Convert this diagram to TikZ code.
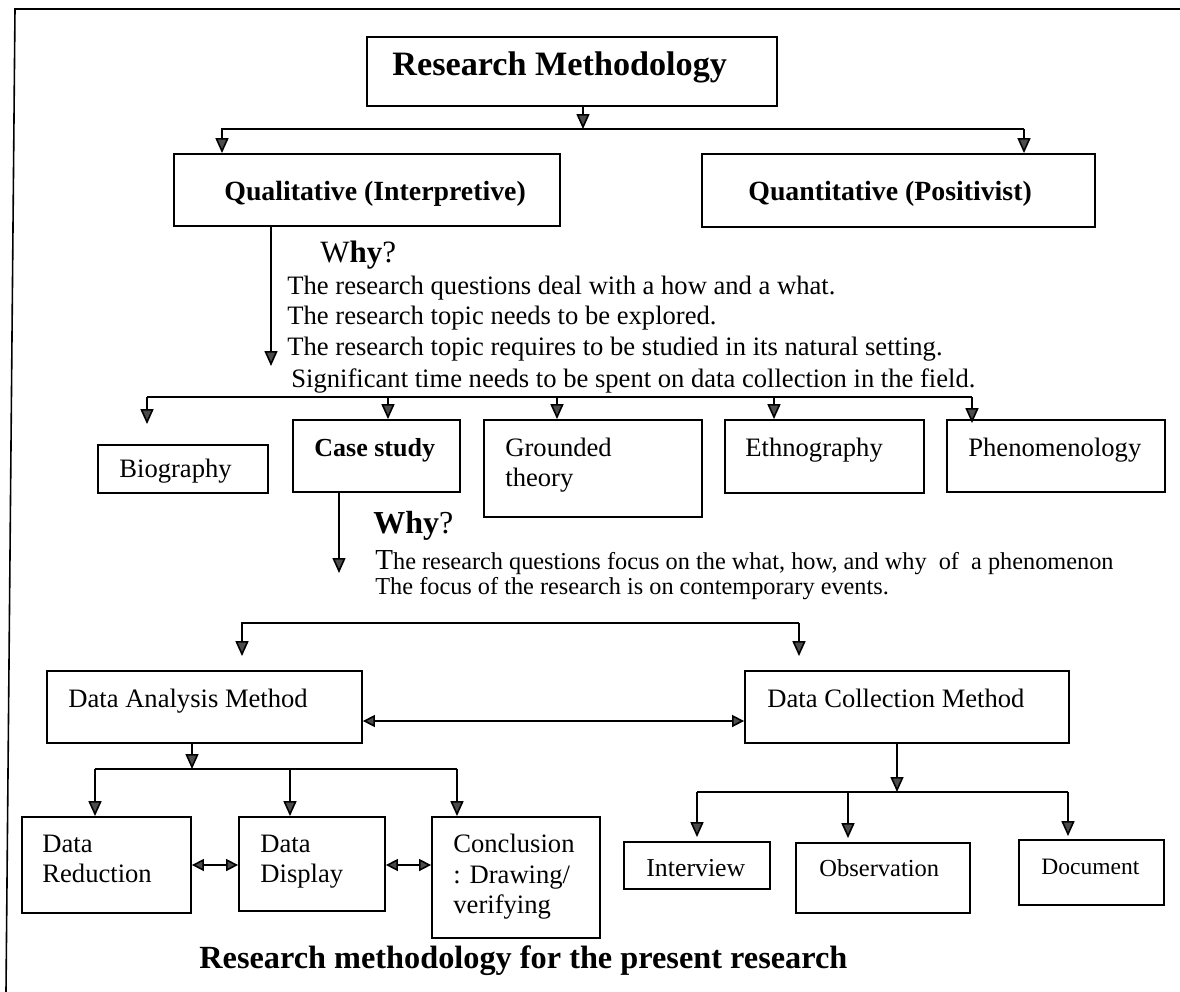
\documentclass[tikz,border=0pt]{standalone}
\usepackage{fontspec}
\setmainfont{Liberation Serif}
\usetikzlibrary{arrows.meta,fit,calc}

\begin{document}
\begin{tikzpicture}[x=0.5pt,y=-0.5pt,
  box/.style={draw,line width=0.9pt,inner sep=0pt},
  txt/.style={inner sep=0pt,anchor=base west},
  body/.style={txt,font=\fontsize{13.3}{15}\selectfont},
  small/.style={txt,font=\fontsize{12.15}{14}\selectfont},
  boldlbl/.style={txt,font=\fontsize{13.9}{16}\selectfont\bfseries},
  link/.style={line width=0.8pt},
  arr/.style={line width=0.8pt,-{Triangle[length=7.5pt,width=6.5pt,fill=black!70]}},
  darr/.style={line width=0.8pt,{Triangle[length=6pt,width=6pt,fill=black!70]}-{Triangle[length=6pt,width=6pt,fill=black!70]}}
]
\useasboundingbox (0,0) rectangle (1180,992);

% outer frame (top and left edges)
\draw[line width=0.8pt] (1180,9) -- (15,9) -- (6,992);

% ---------------- boxes ----------------
\node[box,fit={(367,37) (777,106)}] (rm) {};
\node[box,fit={(174,154) (560,226)}] (ql) {};
\node[box,fit={(702,154) (1095,227)}] (qt) {};

\node[box,fit={(98,445) (268,493)}] (bio) {};
\node[box,fit={(293,420) (460,492)}] (cs) {};
\node[box,fit={(484,420) (702,517)}] (gt) {};
\node[box,fit={(725,420) (924,493)}] (eth) {};
\node[box,fit={(947,420) (1165,492)}] (phe) {};

\node[box,fit={(47,671) (362,743)}] (dam) {};
\node[box,fit={(745,671) (1069,743)}] (dcm) {};

\node[box,fit={(22,817) (191,913)}] (dr) {};
\node[box,fit={(239,817) (385,911)}] (dd) {};
\node[box,fit={(432,817) (600,938)}] (con) {};

\node[box,fit={(624,842) (770,889)}] (int) {};
\node[box,fit={(796,843) (970,913)}] (obs) {};
\node[box,fit={(1019,840) (1164,905)}] (doc) {};

% ---------------- labels ----------------
\node[txt,font=\fontsize{17.1}{20}\selectfont\bfseries] (rmT) at (392,75) {Research Methodology};
\node[boldlbl] (qlT) at (224,200) {Qualitative (Interpretive)};
\node[boldlbl] (qtT) at (748,200) {Quantitative (Positivist)};

\node[txt,font=\fontsize{15.5}{18}\selectfont] (why1) at (320,262) {W\textbf{hy}?};
\node[body] (why1a) at (287,294) {The research questions deal with a how and a what.};
\node[body] (why1b) at (287,324) {The research topic needs to be explored.};
\node[body] (why1c) at (287,355) {The research topic requires to be studied in its natural setting.};
\node[body] (why1d) at (291,387) {Significant time needs to be spent on data collection in the field.};

\node[body] (bioT) at (119,477) {Biography};
\node[txt,font=\fontsize{13}{15}\selectfont\bfseries] (csT) at (314,456) {Case study};
\node[body] (gtT1) at (505,456) {Grounded};
\node[body] (gtT2) at (505,486) {theory};
\node[body] (ethT) at (745,456) {Ethnography};
\node[body] (pheT) at (968,456) {Phenomenology};

\node[txt,font=\fontsize{16}{18}\selectfont] (why2) at (373,533) {\textbf{Why}?};
\node[small] (why2a) at (375,569) {{\fontsize{14.5}{14.5}\selectfont T}he research questions focus on the what, how, and why\ \ of\ \ a phenomenon};
\node[small] (why2b) at (375,594) {The focus of the research is on contemporary events.};

\node[body] (damT) at (68,707) {Data Analysis Method};
\node[body] (dcmT) at (767,707) {Data Collection Method};

\node[body] (drT1) at (42,852) {Data};
\node[body] (drT2) at (42,882) {Reduction};
\node[body] (ddT1) at (260,852) {Data};
\node[body] (ddT2) at (260,882) {Display};
\node[body] (conT1) at (453,852) {Conclusion};
\node[body] (conT2) at (453,883) {: Drawing/};
\node[body] (conT3) at (453,913) {verifying};

\node[txt,font=\fontsize{12.9}{15}\selectfont] (intT) at (646,876) {Interview};
\node[txt,font=\fontsize{12.25}{14}\selectfont] (obsT) at (819,876) {Observation};
\node[txt,font=\fontsize{11.75}{14}\selectfont] (docT) at (1041,874) {Document};

\node[txt,font=\fontsize{16.15}{19}\selectfont\bfseries] (title) at (199,968) {Research methodology for the present research};

% ---------------- connectors ----------------
% Research Methodology -> two paradigms
\coordinate (b1) at (583,129);
\coordinate (b1l) at (222,129);
\coordinate (b1r) at (1024,129);
\draw[arr] (rm.south -| b1) -- (b1);
\draw[arr] (b1r) -- (b1l) -- (b1l |- ql.north);
\draw[arr] (b1r) -- (b1r |- qt.north);

% Qualitative -> reasons
\coordinate (w1) at (271,366);
\draw[arr] (ql.south -| w1) -- (w1);

% strategies of inquiry
\coordinate (b2l) at (147,397);
\coordinate (b2b) at (388,397);
\coordinate (b2c) at (557,397);
\coordinate (b2d) at (774,397);
\coordinate (b2r) at (972,397);
\draw[link] (b2l) -- (b2r);
\draw[arr,shorten >=10pt] (b2l) -- (b2l |- bio.north);
\draw[arr] (b2b) -- (b2b |- cs.north);
\draw[arr] (b2c) -- (b2c |- gt.north);
\draw[arr] (b2d) -- (b2d |- eth.north);
\draw[arr,shorten >=-2pt] (b2r) -- (b2r |- phe.north);

% Case study -> reasons
\coordinate (w2) at (339,573);
\draw[arr] (cs.south -| w2) -- (w2);

% methods
\coordinate (b3l) at (242,623);
\coordinate (b3r) at (799,623);
\draw[arr,shorten >=7pt] (b3r) -- (b3l) -- (b3l |- dam.north);
\draw[arr,shorten >=7pt] (b3r) -- (b3r |- dcm.north);
\coordinate (m3) at (0,721);
\draw[darr] (dam.east |- m3) -- (dcm.west |- m3);

% data analysis steps
\coordinate (b4) at (192,769);
\coordinate (b4l) at (95,769);
\coordinate (b4m) at (290,769);
\coordinate (b4r) at (457,769);
\draw[arr] (dam.south -| b4) -- (b4);
\draw[link] (b4l) -- (b4r);
\draw[arr] (b4l) -- (b4l |- dr.north);
\draw[arr] (b4m) -- (b4m |- dd.north);
\draw[arr] (b4r) -- (b4r |- con.north);
\coordinate (m4) at (0,865);
\draw[darr] (dr.east |- m4) -- (dd.west |- m4);
\draw[darr] (dd.east |- m4) -- (con.west |- m4);

% data collection sources
\coordinate (b5) at (897,792);
\coordinate (b5l) at (697,792);
\coordinate (b5m) at (848,792);
\coordinate (b5r) at (1068,792);
\draw[arr] (dcm.south -| b5) -- (b5);
\draw[link] (b5l) -- (b5r);
\draw[arr,shorten >=2pt] (b5l) -- (b5l |- int.north);
\draw[arr,shorten >=2pt] (b5m) -- (b5m |- obs.north);
\draw[arr,shorten >=1.5pt] (b5r) -- (b5r |- doc.north);
\end{tikzpicture}
\end{document}
